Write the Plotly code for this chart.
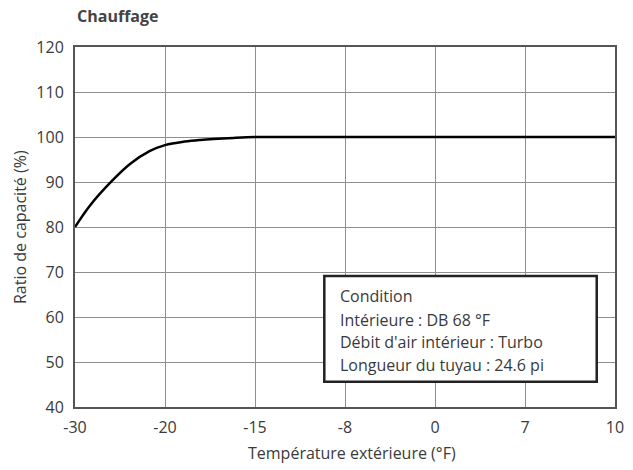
import plotly.graph_objects as go

# Data
x_tick_labels = ["-30", "-20", "-15", "-8", "0", "7", "10"]
curve_pos = [0, 0.167, 0.389, 0.611, 0.833, 1.0, 1.22, 1.39, 1.76, 2.0, 2.4, 3.0, 4.0, 5.0, 6.0]
curve_val = [80, 84.8, 89.8, 94.0, 96.9, 98.2, 99.0, 99.35, 99.8, 100, 100, 100, 100, 100, 100]
y_ticks = [40, 50, 60, 70, 80, 90, 100, 110, 120]
cond_lines = ["Condition", "Intérieure : DB 68 °F", "Débit d'air intérieur : Turbo", "Longueur du tuyau : 24.6 pi"]

FONT = "Open Sans"
FS = 16
TXT = "#3a3a3a"
fig = go.Figure()
fig.add_trace(go.Scatter(x=curve_pos, y=curve_val, mode="lines",
                         line=dict(color="black", width=2.5, shape="spline", smoothing=1.0),
                         hoverinfo="skip", showlegend=False, cliponaxis=True))

fig.update_layout(
    width=633, height=470,
    margin=dict(l=75, r=18, t=47, b=63, autoexpand=False),
    paper_bgcolor="white", plot_bgcolor="white",
    font=dict(family=FONT, color=TXT, size=FS),
    showlegend=False,
)
fig.update_xaxes(range=[0, 6], tickmode="array", tickvals=list(range(len(x_tick_labels))),
                 ticktext=x_tick_labels, showgrid=True, gridcolor="#8f8f8f", gridwidth=1,
                 showline=True, linecolor="#555", linewidth=2, mirror=True, zeroline=False,
                 automargin=False, ticks="", tickfont=dict(size=FS, color=TXT), ticklabelstandoff=5)
fig.update_yaxes(range=[40, 120], tickmode="array", tickvals=y_ticks,
                 showgrid=True, gridcolor="#8f8f8f", gridwidth=1,
                 showline=True, linecolor="#555", linewidth=2, mirror=True, zeroline=False,
                 automargin=False, ticks="", tickfont=dict(size=FS, color=TXT), ticklabelstandoff=6)

# Title
fig.add_annotation(text="<b>Chauffage</b>", xref="paper", yref="paper", x=0, y=1,
                   xanchor="left", yanchor="middle", yshift=31, showarrow=False,
                   font=dict(size=FS, color="#444", family=FONT))
# Axis titles
fig.add_annotation(text="Température extérieure (°F)", xref="paper", yref="paper", x=0.5, y=0,
                   xanchor="center", yanchor="middle", yshift=-46, xshift=7, showarrow=False,
                   font=dict(size=FS, color=TXT, family=FONT))
fig.add_annotation(text="Ratio de capacité (%)", xref="paper", yref="paper", x=0, y=0.5,
                   xanchor="center", yanchor="middle", xshift=-55, textangle=-90, showarrow=False,
                   font=dict(size=FS, color=TXT, family=FONT))

# Condition box
fig.add_shape(type="rect", xref="x", yref="y", x0=2.77, x1=5.797, y0=45.62, y1=69.1,
              line=dict(color="#222", width=2.5), fillcolor="white", layer="above")
line_y = [64.67, 59.33, 54.5, 49.33]
for txt, yy in zip(cond_lines, line_y):
    fig.add_annotation(text=txt, xref="x", yref="y", x=2.926, y=yy,
                       xanchor="left", yanchor="middle", align="left", showarrow=False,
                       font=dict(size=FS, color=TXT, family=FONT))

fig.write_html("out.html", config={"displayModeBar": False},
               post_script="document.body.style.margin='0px';")
